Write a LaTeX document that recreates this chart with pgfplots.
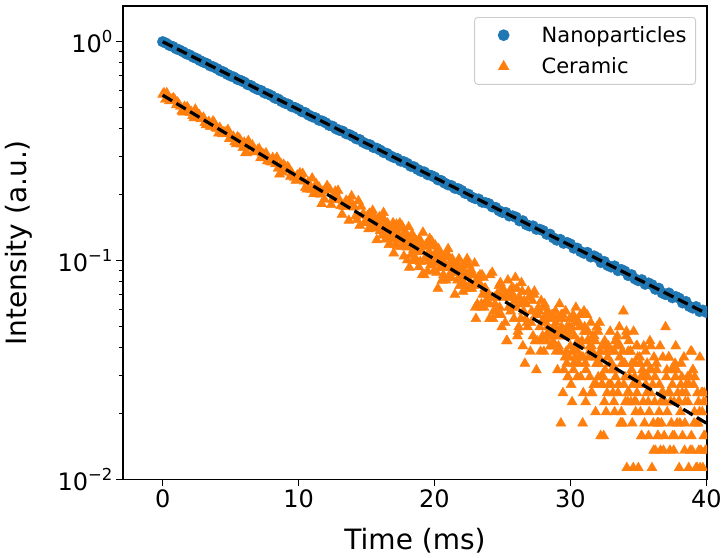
\documentclass[border=0pt]{standalone}
\usepackage{pgfplots}
\pgfplotsset{compat=1.18}
\usepackage{fontspec}
\setmainfont{DejaVu Sans}
\definecolor{tabblue}{HTML}{1F77B4}
\definecolor{taborange}{HTML}{FF7F0E}
\newcommand{\supr}[1]{10\raisebox{0.42em}{\fontsize{16.5}{18}\selectfont #1}}
\begin{document}
\begin{tikzpicture}
\begin{axis}[
  scale only axis, width=584pt, height=473.5pt,
  clip marker paths=true,
  ymode=log, xmin=-2.92, xmax=40.05, ymin=0.01, ymax=1.456,
  xtick={0,10,20,30,40}, xticklabels={0,10,20,30,40},
  ytick={0.01,0.1,1}, yticklabels={\supr{−2},\supr{−1},\supr{0}},
  minor ytick={0.02,0.03,0.04,0.05,0.06,0.07,0.08,0.09,0.2,0.3,0.4,0.5,0.6,0.7,0.8,0.9},
  tick align=outside, xtick pos=bottom, ytick pos=left,
  major tick length=7pt, minor tick length=4pt,
  every tick/.style={black, line width=1.1pt},
  axis line style={line width=1.1pt},
  ticklabel style={font=\fontsize{24}{28}\selectfont},
  xlabel={Time (ms)}, ylabel={Intensity (a.u.)},
  label style={font=\fontsize{28}{32}\selectfont},
  xlabel style={at={(axis description cs:0.5,-0.130)}, anchor=center},
  ylabel style={at={(axis description cs:-0.178,0.5)}, anchor=center},
  legend style={at={(1,1)}, anchor=north east, xshift=-11pt, yshift=-11pt,
    draw=black!20, line width=0.9pt, rounded corners=3pt,
    font=\fontsize{21}{24}\selectfont, inner xsep=9pt, inner ysep=9pt,
    row sep=14pt, nodes={inner xsep=0pt, inner ysep=0pt},
    /tikz/every odd column/.append style={column sep=30pt}},
  legend cell align=left,
  legend image code/.code={\path[draw=none,fill=none] (-20pt,0pt) -- (8pt,0pt); \draw[#1] plot coordinates {(0pt,0pt)};},
]
\addplot[only marks, mark=*, mark size=5.4pt, color=tabblue] table {
x y
0 1.000
0.25 0.985
0.5 0.962
0.75 0.950
1 0.928
1.25 0.916
1.5 0.899
1.75 0.880
2 0.869
2.25 0.850
2.5 0.838
2.75 0.820
3 0.806
3.25 0.795
3.5 0.776
3.75 0.767
4 0.753
4.25 0.736
4.5 0.727
4.75 0.710
5 0.698
5.25 0.689
5.5 0.673
5.75 0.665
6 0.654
6.25 0.637
6.5 0.630
6.75 0.615
7 0.605
7.25 0.598
7.5 0.583
7.75 0.577
8 0.567
8.25 0.553
8.5 0.547
8.75 0.533
9 0.524
9.25 0.518
9.5 0.505
9.75 0.500
10 0.491
10.25 0.479
10.5 0.474
10.75 0.462
11 0.454
11.25 0.449
11.5 0.438
11.75 0.434
12 0.426
12.25 0.415
12.5 0.411
12.75 0.400
13 0.394
13.25 0.390
13.5 0.380
13.75 0.376
14 0.369
14.25 0.360
14.5 0.357
14.75 0.347
15 0.341
15.25 0.338
15.5 0.329
15.75 0.326
16 0.320
16.25 0.312
16.5 0.309
16.75 0.301
17 0.296
17.25 0.293
17.5 0.285
17.75 0.283
18 0.278
18.25 0.270
18.5 0.268
18.75 0.261
19 0.256
19.25 0.254
19.5 0.247
19.75 0.245
20 0.241
20.25 0.234
20.5 0.232
20.75 0.226
21 0.222
21.25 0.220
21.5 0.214
21.75 0.213
22 0.209
22.25 0.203
22.5 0.201
22.75 0.195
23 0.192
23.25 0.191
23.5 0.185
23.75 0.184
24 0.182
24.25 0.176
24.5 0.175
24.75 0.169
25 0.166
25.25 0.166
25.5 0.160
25.75 0.160
26 0.158
26.25 0.152
26.5 0.152
26.75 0.146
27 0.144
27.25 0.144
27.5 0.139
27.75 0.139
28 0.137
28.25 0.132
28.5 0.132
28.75 0.127
29 0.124
29.25 0.125
29.5 0.120
29.75 0.121
30 0.119
30.25 0.114
30.5 0.114
30.75 0.110
31 0.108
31.25 0.109
31.5 0.104
31.75 0.105
32 0.103
32.25 0.098
32.5 0.099
32.75 0.095
33 0.0935
33.25 0.0945
33.5 0.0900
33.75 0.0910
34 0.0895
34.25 0.0855
34.5 0.0862
34.75 0.0825
35 0.0810
35.25 0.0818
35.5 0.0780
35.75 0.0790
36 0.0776
36.25 0.0740
36.5 0.0748
36.75 0.0712
37 0.0700
37.25 0.0711
37.5 0.0677
37.75 0.0685
38 0.0674
38.25 0.0641
38.5 0.0650
38.75 0.0618
39 0.0607
39.25 0.0616
39.5 0.0586
39.75 0.0594
40 0.0580
};
\addlegendentry{Nanoparticles}
\addplot[only marks, mark=triangle*, mark size=5.8pt, color=taborange] table {
x y
0 0.5741
0.2 0.5440
0.4 0.5616
0.6 0.5399
0.8 0.5524
1 0.5134
1.2 0.5154
1.4 0.4807
1.6 0.5048
1.8 0.5031
2 0.4743
2.2 0.4593
2.4 0.4906
2.6 0.4555
2.8 0.4436
3 0.4503
3.2 0.4168
3.4 0.4309
3.6 0.4111
3.8 0.4255
4 0.4015
4.2 0.4048
4.4 0.3788
4.6 0.3857
4.8 0.3961
5 0.3614
5.2 0.3686
5.4 0.3409
5.6 0.3630
5.8 0.3401
6 0.3466
6.2 0.3103
6.4 0.3294
6.6 0.3363
6.8 0.3138
7 0.3208
7.2 0.2941
7.4 0.3057
7.6 0.3097
7.8 0.2899
8 0.2815
8.2 0.2868
8.4 0.2955
8.6 0.2479
8.8 0.2533
9 0.2692
9.2 0.2681
9.4 0.2422
9.6 0.2436
9.8 0.2325
10 0.2418
10.2 0.2366
10.4 0.2302
10.6 0.2117
10.8 0.2213
11 0.2378
11.2 0.2068
11.4 0.2065
11.6 0.2007
11.8 0.2072
12 0.2116
12.2 0.2115
12.4 0.1799
12.6 0.1947
12.8 0.1959
13 0.1893
13.2 0.1624
13.4 0.1762
13.6 0.1844
13.8 0.1848
14 0.1795
14.2 0.1597
14.4 0.1873
14.6 0.1766
14.8 0.1625
15.0 0.1485
15.1 0.1506
15.2 0.1639
15.3 0.1501
15.4 0.1421
15.5 0.1566
15.6 0.1575
15.7 0.1461
15.8 0.1528
15.9 0.1447
16.0 0.1367
16.1 0.1446
16.2 0.1523
16.3 0.1534
16.4 0.1250
16.5 0.1385
16.6 0.1261
16.7 0.1193
16.8 0.1418
16.9 0.1373
17.0 0.1080
17.1 0.1182
17.2 0.1464
17.3 0.1407
17.4 0.1238
17.5 0.1408
17.6 0.1443
17.7 0.1184
17.8 0.1195
17.9 0.1309
18.0 0.1005
18.1 0.1424
18.2 0.1244
18.3 0.1064
18.4 0.0997
18.5 0.1168
18.6 0.1023
18.7 0.1227
18.8 0.1094
18.9 0.1254
19.0 0.1119
19.1 0.0862
19.2 0.1157
19.3 0.1024
19.4 0.1184
19.5 0.0891
19.6 0.1097
19.7 0.0953
19.8 0.1226
19.9 0.1048
20.0 0.0904
20.1 0.10848
20.2 0.09718
20.3 0.113
20.4 0.09266
20.5 0.1017
20.6 0.08136
20.7 0.10396
20.8 0.09266
20.9 0.09266
21.0 0.113
21.1 0.08362
21.2 0.08814
21.3 0.1017
21.4 0.09718
21.5 0.07006
21.6 0.0904
21.7 0.08136
21.8 0.1017
21.9 0.08588
22.0 0.09266
22.1 0.07232
22.2 0.08814
22.3 0.09718
22.4 0.1017
22.5 0.07458
22.6 0.08814
22.7 0.0904
22.8 0.08588
22.9 0.07684
23.0 0.06102
23.1 0.08136
23.2 0.08362
23.3 0.0791
23.4 0.06102
23.5 0.08588
23.6 0.08362
23.7 0.07458
23.8 0.06554
23.9 0.06554
24.0 0.06328
24.1 0.08588
24.2 0.0678
24.3 0.05424
24.4 0.0678
24.5 0.0678
24.6 0.07006
24.7 0.0565
24.8 0.06102
24.9 0.0565
25.0 0.07458
25.1 0.07232
25.2 0.05198
25.3 0.04294
25.4 0.08136
25.5 0.0678
25.6 0.05876
25.7 0.06102
25.8 0.07458
25.9 0.06554
26.0 0.06102
26.1 0.0452
26.2 0.04972
26.3 0.06328
26.4 0.0791
26.5 0.04068
26.6 0.06554
26.7 0.05424
26.8 0.05198
26.9 0.07232
27.0 0.0678
27.1 0.05198
27.2 0.06554
27.3 0.07006
27.4 0.04294
27.5 0.03164
27.6 0.0565
27.7 0.05876
27.8 0.03842
27.9 0.04294
28.00 0.05198
28.05 0.03842
28.10 0.06328
28.15 0.06102
28.20 0.05198
28.25 0.04294
28.30 0.04972
28.35 0.0565
28.40 0.04746
28.45 0.0565
28.50 0.05424
28.55 0.04068
28.60 0.0452
28.65 0.0565
28.70 0.04294
28.75 0.04068
28.80 0.04972
28.85 0.0452
28.90 0.05876
28.95 0.03842
29.00 0.04746
29.05 0.03164
29.10 0.05424
29.15 0.0452
29.20 0.06328
29.25 0.03842
29.30 0.01808
29.35 0.04972
29.40 0.05424
29.45 0.02486
29.50 0.0452
29.55 0.04746
29.60 0.03616
29.65 0.05876
29.70 0.03842
29.75 0.04972
29.80 0.02938
29.85 0.0452
29.90 0.03616
29.95 0.05424
30.00 0.04068
30.05 0.02712
30.10 0.04972
30.15 0.03842
30.20 0.0565
30.25 0.0339
30.30 0.0452
30.35 0.03616
30.40 0.06102
30.45 0.04068
30.50 0.02938
30.55 0.04294
30.60 0.0339
30.65 0.04972
30.70 0.03616
30.75 0.02938
30.80 0.04068
30.85 0.04294
30.90 0.01808
30.95 0.02486
31.00 0.05876
31.05 0.04972
31.10 0.0339
31.15 0.03164
31.20 0.04746
31.25 0.04294
31.30 0.04746
31.35 0.03616
31.40 0.03842
31.45 0.04068
31.50 0.05198
31.55 0.04068
31.60 0.02486
31.65 0.0452
31.70 0.04294
31.75 0.0452
31.80 0.03616
31.85 0.02034
31.90 0.02712
31.95 0.04972
32.00 0.0339
32.05 0.02938
32.10 0.0339
32.15 0.05198
32.20 0.03842
32.25 0.02938
32.30 0.02712
32.35 0.02712
32.40 0.04068
32.45 0.01582
32.50 0.0226
32.55 0.03164
32.60 0.04068
32.65 0.03842
32.70 0.02486
32.75 0.03616
32.80 0.04068
32.85 0.02712
32.90 0.02712
32.95 0.0339
33.00 0.02712
33.05 0.03164
33.10 0.03842
33.15 0.03164
33.20 0.0226
33.25 0.02034
33.30 0.04294
33.35 0.03164
33.40 0.04068
33.45 0.0452
33.50 0.02486
33.55 0.02712
33.60 0.04972
33.65 0.04068
33.70 0.01808
33.75 0.02034
33.80 0.0339
33.85 0.01808
33.90 0.05876
33.95 0.0339
34.00 0.0339
34.05 0.0226
34.10 0.0452
34.15 0.0113
34.20 0.02486
34.25 0.03842
34.30 0.04294
34.35 0.02938
34.40 0.03842
34.45 0.0226
34.50 0.03164
34.55 0.01808
34.60 0.02712
34.65 0.04746
34.70 0.0226
34.75 0.0339
34.80 0.02034
34.85 0.04068
34.90 0.02486
34.95 0.03616
35.00 0.0113
35.05 0.02712
35.10 0.03616
35.15 0.02034
35.20 0.02938
35.25 0.01582
35.30 0.03164
35.35 0.0226
35.40 0.04068
35.45 0.01808
35.50 0.02938
35.55 0.02712
35.65 0.0339
35.70 0.02938
35.75 0.01582
35.80 0.02034
35.85 0.04294
35.90 0.02486
35.95 0.03164
36.00 0.0113
36.05 0.02712
36.10 0.01808
36.15 0.03616
36.20 0.0226
36.25 0.01356
36.35 0.03164
36.40 0.01808
36.45 0.01582
36.50 0.01808
36.55 0.02712
36.60 0.04068
36.65 0.0226
36.70 0.01808
36.75 0.0226
36.80 0.03616
36.85 0.01356
36.90 0.01582
36.95 0.0226
37.00 0.04972
37.05 0.02938
37.10 0.03164
37.20 0.02486
37.25 0.03616
37.30 0.02486
37.35 0.0226
37.40 0.0226
37.45 0.03164
37.50 0.02712
37.55 0.03164
37.60 0.01356
37.65 0.01582
37.70 0.0339
37.75 0.04068
37.85 0.01808
37.90 0.02486
37.95 0.0226
38.00 0.0113
38.05 0.01808
38.10 0.02034
38.15 0.0339
38.20 0.02938
38.25 0.01582
38.35 0.03616
38.40 0.01356
38.45 0.0226
38.50 0.02486
38.65 0.0226
38.70 0.0113
38.80 0.02938
38.85 0.03842
38.90 0.01582
38.95 0.01356
39.00 0.03164
39.05 0.02712
39.10 0.01808
39.15 0.02938
39.25 0.0113
39.30 0.01808
39.35 0.02486
39.40 0.01808
39.45 0.01356
39.50 0.02034
39.55 0.0113
39.60 0.01356
39.65 0.02486
39.70 0.02034
39.75 0.0113
39.80 0.0226
39.85 0.02486
39.90 0.01582
39.95 0.0226
40.00 0.01356
};
\addlegendentry{Ceramic}
\addplot[only marks, mark=triangle*, mark size=5.8pt, color=taborange, forget plot] table {
x y
0.1 0.5828
0.3 0.5827
0.5 0.5365
0.7 0.5476
0.9 0.5410
1.1 0.5279
1.3 0.5055
1.5 0.4764
1.7 0.4964
1.9 0.4921
2.1 0.4783
2.3 0.4485
2.5 0.4744
2.7 0.4625
2.9 0.4453
3.1 0.4263
3.3 0.4214
3.5 0.4103
3.7 0.4331
3.9 0.4035
4.1 0.3815
4.3 0.3910
4.5 0.3868
4.7 0.3814
4.9 0.3599
5.1 0.3609
5.3 0.3485
5.5 0.3661
5.7 0.3562
5.9 0.3277
6.1 0.3106
6.3 0.3524
6.5 0.3318
6.7 0.3149
6.9 0.3132
7.1 0.3241
7.3 0.3089
7.5 0.3024
7.7 0.2848
7.9 0.2835
8.1 0.2948
8.3 0.2762
8.5 0.2639
8.7 0.2768
8.9 0.2746
9.1 0.2588
9.3 0.2632
9.5 0.2513
9.7 0.2396
9.9 0.2453
10.1 0.2511
10.3 0.2496
10.5 0.2155
10.7 0.2279
10.9 0.2115
11.1 0.2014
11.3 0.2239
11.5 0.2165
11.7 0.1816
11.9 0.1905
12.1 0.2197
12.3 0.2112
12.5 0.1902
12.7 0.2070
12.9 0.2088
13.1 0.1780
13.3 0.1773
13.5 0.1881
13.7 0.1525
13.9 0.1970
14.1 0.1753
14.3 0.1537
14.5 0.1445
14.7 0.1618
14.9 0.1502
15.05 0.1595
15.15 0.1394
15.25 0.1630
15.35 0.1504
15.45 0.1692
15.55 0.1404
15.65 0.1492
15.75 0.1241
15.85 0.1529
15.95 0.1579
16.05 0.1379
16.15 0.1304
16.25 0.1654
16.35 0.1392
16.45 0.1342
16.55 0.1481
16.65 0.1182
16.75 0.1408
16.85 0.1258
16.95 0.1485
17.05 0.1286
17.15 0.1388
17.25 0.1163
17.35 0.1302
17.45 0.1480
17.55 0.1156
17.65 0.1296
17.75 0.1047
17.85 0.1349
17.95 0.1151
18.05 0.1278
18.15 0.0930
18.25 0.1195
18.35 0.1322
18.45 0.1124
18.55 0.1252
18.65 0.1004
18.75 0.1145
18.85 0.0935
18.95 0.0988
19.05 0.1166
19.15 0.1344
19.25 0.0859
19.35 0.1175
19.45 0.1028
19.55 0.0993
19.65 0.1260
19.75 0.1202
19.85 0.0992
19.95 0.1159
20.05 0.11752
20.15 0.08814
20.25 0.07458
20.35 0.10396
20.45 0.10622
20.55 0.08136
20.65 0.08588
20.75 0.09718
20.85 0.08136
20.95 0.10622
21.05 0.10396
21.15 0.09492
21.25 0.08362
21.35 0.0904
21.45 0.09718
21.55 0.08814
21.65 0.09718
21.75 0.09492
21.85 0.07684
21.95 0.08362
22.05 0.09492
22.15 0.0791
22.25 0.07458
22.35 0.08588
22.45 0.08588
22.55 0.09492
22.65 0.0791
22.75 0.07458
22.85 0.08588
22.95 0.09718
23.05 0.05424
23.15 0.06328
23.25 0.08362
23.35 0.08588
23.45 0.06328
23.55 0.07006
23.65 0.06102
23.75 0.07458
23.85 0.07232
23.95 0.07006
24.05 0.05424
24.15 0.0678
24.25 0.08814
24.35 0.05876
24.45 0.06328
24.55 0.05876
24.65 0.07006
24.75 0.07684
24.85 0.0791
24.95 0.04972
25.05 0.0678
25.15 0.07232
25.25 0.0678
25.35 0.04294
25.45 0.06102
25.55 0.07006
25.65 0.07458
25.75 0.07006
25.85 0.05424
25.95 0.08362
26.05 0.07458
26.15 0.04746
26.25 0.0678
26.35 0.05424
26.45 0.07232
26.55 0.05876
26.65 0.0339
26.75 0.06328
26.85 0.04972
26.95 0.0678
27.05 0.03842
27.15 0.05876
27.25 0.0452
27.35 0.07232
27.45 0.0565
27.55 0.04294
27.65 0.06102
27.75 0.04972
27.85 0.06554
27.95 0.0452
28.025 0.05424
28.125 0.04294
28.225 0.0452
28.325 0.05876
28.425 0.04746
28.525 0.04068
28.625 0.05424
28.725 0.0565
28.825 0.04746
28.925 0.05198
29.025 0.04746
29.125 0.04068
29.225 0.04746
29.325 0.0565
29.425 0.0565
29.525 0.03164
29.625 0.0452
29.725 0.0339
29.825 0.02938
29.925 0.04972
30.025 0.04746
30.125 0.0226
30.225 0.03164
30.325 0.05424
30.425 0.05198
30.525 0.03842
30.625 0.05198
30.725 0.0565
30.825 0.03616
30.925 0.03616
31.025 0.04746
31.125 0.0226
31.225 0.0565
31.325 0.04294
31.425 0.02938
31.525 0.02486
31.625 0.03842
31.725 0.02712
31.825 0.04294
31.925 0.0339
32.025 0.04746
32.125 0.03616
32.225 0.01582
32.325 0.04068
32.425 0.02938
32.525 0.04294
32.625 0.02034
32.725 0.03842
32.825 0.02712
32.925 0.04746
33.025 0.0339
33.125 0.02486
33.225 0.03842
33.325 0.02938
33.425 0.04294
33.525 0.02712
33.625 0.03616
33.725 0.01808
33.825 0.03842
33.925 0.02712
34.025 0.02938
34.125 0.04746
34.225 0.0226
34.325 0.02486
34.425 0.03842
34.525 0.0339
34.625 0.0113
34.725 0.02938
34.825 0.0226
34.925 0.04068
35.025 0.02712
35.125 0.0339
35.225 0.01582
35.325 0.02938
35.425 0.02938
35.525 0.03842
35.625 0.02486
35.725 0.0226
35.825 0.03164
35.925 0.04068
36.125 0.01356
36.225 0.02938
36.325 0.0339
36.425 0.01582
36.525 0.02034
36.625 0.01356
36.725 0.02486
36.825 0.02486
36.925 0.0226
37.125 0.02034
37.225 0.03616
37.325 0.01356
37.425 0.01808
37.525 0.01582
37.625 0.0226
37.725 0.02938
37.825 0.03164
38.025 0.0226
38.125 0.02712
38.225 0.02486
38.425 0.01808
38.525 0.02712
38.625 0.02938
38.725 0.02712
38.825 0.01356
38.925 0.03842
39.025 0.03164
39.125 0.02034
39.325 0.0113
39.425 0.0226
39.525 0.03616
39.725 0.02486
39.825 0.01582
39.925 0.01356
};
\addplot[black, line width=3.2pt, dash pattern=on 11pt off 5pt, forget plot] coordinates {(0,1.0) (40,0.0574)};
\addplot[black, line width=3.2pt, dash pattern=on 11pt off 5pt, forget plot] coordinates {(0,0.570) (40,0.0181)};
\end{axis}
\pgfresetboundingbox
\path ([xshift=-123pt,yshift=-77.5pt]current axis.south west) rectangle ([xshift=16pt,yshift=6pt]current axis.north east);
\end{tikzpicture}
\end{document}
